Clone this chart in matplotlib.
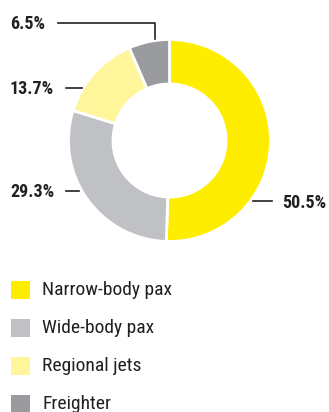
import matplotlib
matplotlib.use("Agg")
import matplotlib.pyplot as plt

categories = ["Narrow-body pax", "Wide-body pax", "Regional jets", "Freighter"]
shares = [50.5, 29.3, 13.7, 6.5]
colors = ["#FFED00", "#C0C1C5", "#FFF59A", "#9A9B9E"]
label_texts = [f"{v}%" for v in shares]

plt.rcParams["font.family"] = ["Roboto Condensed", "DejaVu Sans"]

W, H = 329, 412
fig = plt.figure(figsize=(W / 100, H / 100), dpi=100)
ax = fig.add_axes([0, 0, 1, 1])

cx, cy, R = 169.5, H - 140.5, 101
ax.pie(shares, colors=colors, startangle=90, counterclock=False,
       center=(cx, cy), radius=R, frame=True,
       wedgeprops=dict(width=R * 0.44, edgecolor="white", linewidth=2))

ax.set_xlim(0, W)
ax.set_ylim(0, H)
ax.set_aspect("equal")
ax.set_axis_off()

ink = "#231F20"
lw = 1.2
lab = dict(fontsize=13, fontweight="bold", color=ink, va="center")

# leader lines and value labels
ax.plot([58, 155, 155], [H - 23, H - 23, H - 39], color=ink, lw=lw)
ax.text(10, H - 24, label_texts[3], ha="left", **lab)
ax.plot([66, 82], [H - 88, H - 88], color=ink, lw=lw)
ax.text(10, H - 89, label_texts[2], ha="left", **lab)
ax.plot([66, 79], [H - 191, H - 191], color=ink, lw=lw)
ax.text(10, H - 192, label_texts[1], ha="left", **lab)
ax.plot([253, 272], [H - 201, H - 201], color=ink, lw=lw)
ax.text(326, H - 203, label_texts[0], ha="right", **lab)

# legend
for i, (name, col) in enumerate(zip(categories, colors)):
    y = H - (290 + 38 * i)
    ax.add_patch(plt.Rectangle((11, y - 9), 19, 18, facecolor=col, edgecolor="none"))
    ax.text(42, y, name, fontsize=14, color=ink, va="center", ha="left")

fig.savefig("out.png", dpi=100)
